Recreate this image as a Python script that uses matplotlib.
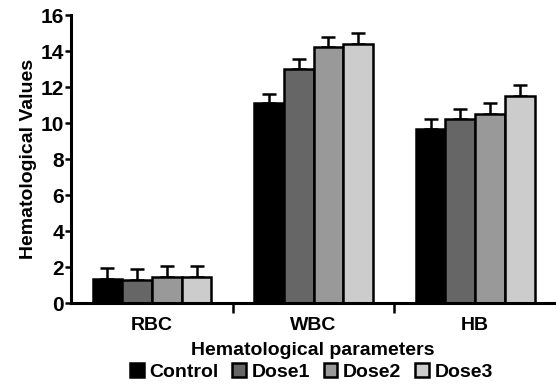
import numpy as np
import matplotlib.pyplot as plt

plt.rcParams['font.family'] = ['Liberation Sans', 'DejaVu Sans']
plt.rcParams['font.weight'] = 'bold'
plt.rcParams['axes.labelweight'] = 'bold'

categories = ['RBC', 'WBC', 'HB']
series = ['Control', 'Dose1', 'Dose2', 'Dose3']
control = [1.33, 11.1, 9.67]
dose1 = [1.28, 13.0, 10.2]
dose2 = [1.44, 14.2, 10.5]
dose3 = [1.44, 14.4, 11.5]
control_err = [0.6, 0.5, 0.55]
dose1_err = [0.6, 0.55, 0.6]
dose2_err = [0.6, 0.6, 0.6]
dose3_err = [0.6, 0.6, 0.6]

values = [control, dose1, dose2, dose3]
errors = [control_err, dose1_err, dose2_err, dose3_err]
colors = ['#000000', '#666666', '#999999', '#cccccc']

fig = plt.figure(figsize=(5.56, 3.87), dpi=100)
ax = fig.add_axes([0.128, 0.217, 0.872, 0.744])

x = np.arange(len(categories))
w = 0.184
for i, (vals, errs) in enumerate(zip(values, errors)):
    pos = x + (i - 1.5) * w
    ax.bar(pos, vals, w, color=colors[i], edgecolor='black', linewidth=1.8,
           label=series[i], zorder=2)
    ax.errorbar(pos, vals, yerr=[np.zeros(len(errs)), errs], fmt='none',
                ecolor='black', elinewidth=1.8, capsize=5, capthick=1.8, zorder=1)

ax.set_xlim(-0.5, 2.5)
ax.set_ylim(0, 16)
ax.set_yticks(range(0, 17, 2))
ax.set_xticks([0.5, 1.5])
ax.set_xticklabels([])
ax.tick_params(axis='x', length=7, width=1.8)
ax.tick_params(axis='y', length=4, width=1.8, labelsize=15, pad=1)
for c, name in zip(x, categories):
    ax.text(c, -0.75, name, ha='center', va='top', fontsize=14,
            transform=ax.transData)
ax.spines['top'].set_visible(False)
ax.spines['right'].set_visible(False)
ax.spines['left'].set_linewidth(2.2)
ax.spines['bottom'].set_linewidth(2.2)

ax.set_ylabel('Hematological Values', fontsize=14, labelpad=3)
fig.text(0.563, 0.095, 'Hematological parameters', ha='center', va='center', fontsize=14)

fig.legend(loc='center', bbox_to_anchor=(0.56, 0.038), ncol=4, frameon=False,
           fontsize=14, handlelength=0.7, handleheight=0.7, handletextpad=0.3,
           columnspacing=0.7, borderaxespad=0)

fig.savefig('out.png', dpi=100)
